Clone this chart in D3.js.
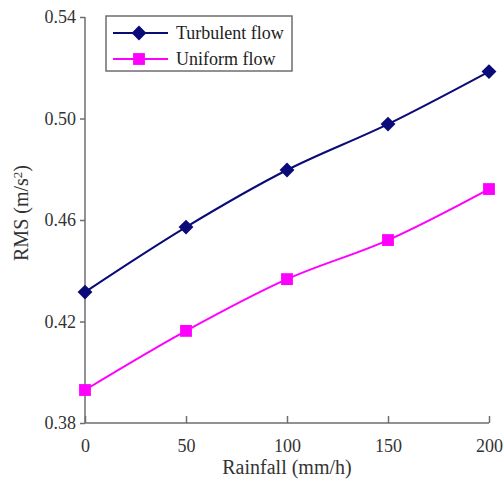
<!DOCTYPE html>
<html lang="en">
<head>
    <meta charset="UTF-8">
    <title>RMS vs Rainfall</title>
    <script src="https://d3js.org/d3.v7.min.js"></script>
    <style>
        body { margin: 0; background: #fff; }
        svg { font-family: "Liberation Serif", "Times New Roman", serif; }
    </style>
</head>
<body>
    <div id="chart"></div>

    <script>
        // Data
        const rainfall = [0, 50, 100, 150, 200];
        const turbulent = [0.4316, 0.4572, 0.4797, 0.4978, 0.5185];
        const uniform = [0.3930, 0.4163, 0.4367, 0.4521, 0.4722];
        const yTicks = [0.38, 0.42, 0.46, 0.50, 0.54];
        const xTicks = [0, 50, 100, 150, 200];

        const width = 504, height = 481;
        const margin = {top: 17, right: 15, bottom: 58, left: 85};

        const svg = d3.select("#chart").append("svg")
            .attr("width", width)
            .attr("height", height);

        const x = d3.scaleLinear().domain([0, 200]).range([margin.left, width - margin.right]);
        const y = d3.scaleLinear().domain([0.38, 0.54]).range([height - margin.bottom, margin.top]);

        const axisColor = "#6e6e6e";

        // x axis, ticks point inward
        const gx = svg.append("g")
            .attr("transform", `translate(0,${y(0.38)})`)
            .call(d3.axisBottom(x).tickValues(xTicks).tickSize(-7).tickPadding(16).tickFormat(d3.format("d")));
        // y axis, ticks point outward
        const gy = svg.append("g")
            .attr("transform", `translate(${x(0)},0)`)
            .call(d3.axisLeft(y).tickValues(yTicks).tickSize(5).tickPadding(4).tickFormat(d3.format(".2f")));

        [gx, gy].forEach(g => {
            g.select(".domain").attr("stroke", axisColor).attr("stroke-width", 1.5);
            g.selectAll(".tick line").attr("stroke", axisColor).attr("stroke-width", 1.5);
            g.selectAll(".tick text").attr("fill", "#333").style("font-size", "18px")
                .style("font-family", "'Liberation Serif', serif");
        });
        gx.select(".domain").attr("d", `M${x(0)},0H${x(200)}`);
        gy.select(".domain").attr("d", `M0,${y(0.38)}V${y(0.54)}`);

        // axis titles
        svg.append("text")
            .attr("x", x(100)).attr("y", 474)
            .attr("text-anchor", "middle")
            .attr("fill", "#333")
            .style("font-size", "20px")
            .text("Rainfall (mm/h)");

        const yt = svg.append("text")
            .attr("transform", `translate(28,213) rotate(-90)`)
            .attr("text-anchor", "middle")
            .attr("fill", "#333")
            .style("font-size", "20px");
        yt.append("tspan").text("RMS (m/s");
        yt.append("tspan").attr("dy", -6).style("font-size", "13px").text("2");
        yt.append("tspan").attr("dy", 6).text(")");

        // rotated square as diamond
        const diamond = {
            draw(ctx, size) {
                const r = Math.sqrt(size) / 2 * Math.SQRT2;
                ctx.moveTo(0, -r); ctx.lineTo(r, 0); ctx.lineTo(0, r); ctx.lineTo(-r, 0); ctx.closePath();
            }
        };

        const series = [
            {name: "Turbulent flow", values: turbulent, color: "#0a0a78", shape: diamond, size: 110},
            {name: "Uniform flow", values: uniform, color: "#ff00ff", shape: d3.symbolSquare, size: 140}
        ];

        const line = d3.line()
            .x((d, i) => x(rainfall[i]))
            .y(d => y(d))
            .curve(d3.curveCatmullRom.alpha(0.5));

        series.forEach(s => {
            svg.append("path")
                .attr("d", line(s.values))
                .attr("fill", "none")
                .attr("stroke", s.color)
                .attr("stroke-width", 2);
            svg.selectAll(null)
                .data(s.values)
                .enter().append("path")
                .attr("d", d3.symbol().type(s.shape).size(s.size))
                .attr("transform", (d, i) => `translate(${x(rainfall[i])},${y(d)})`)
                .attr("fill", s.color);
        });

        // legend
        const lg = svg.append("g").attr("transform", "translate(106,16)");
        lg.append("rect")
            .attr("width", 186).attr("height", 55)
            .attr("fill", "#fff")
            .attr("stroke", axisColor)
            .attr("stroke-width", 1.5);
        series.forEach((s, i) => {
            const yy = 17 + i * 26;
            lg.append("line")
                .attr("x1", 7).attr("x2", 62)
                .attr("y1", yy).attr("y2", yy)
                .attr("stroke", s.color).attr("stroke-width", 2);
            lg.append("path")
                .attr("d", d3.symbol().type(s.shape).size(s.size))
                .attr("transform", `translate(33,${yy})`)
                .attr("fill", s.color);
            lg.append("text")
                .attr("x", 70).attr("y", yy + 6)
                .attr("fill", "#222")
                .style("font-size", "18px")
                .text(s.name);
        });
    </script>
</body>
</html>
